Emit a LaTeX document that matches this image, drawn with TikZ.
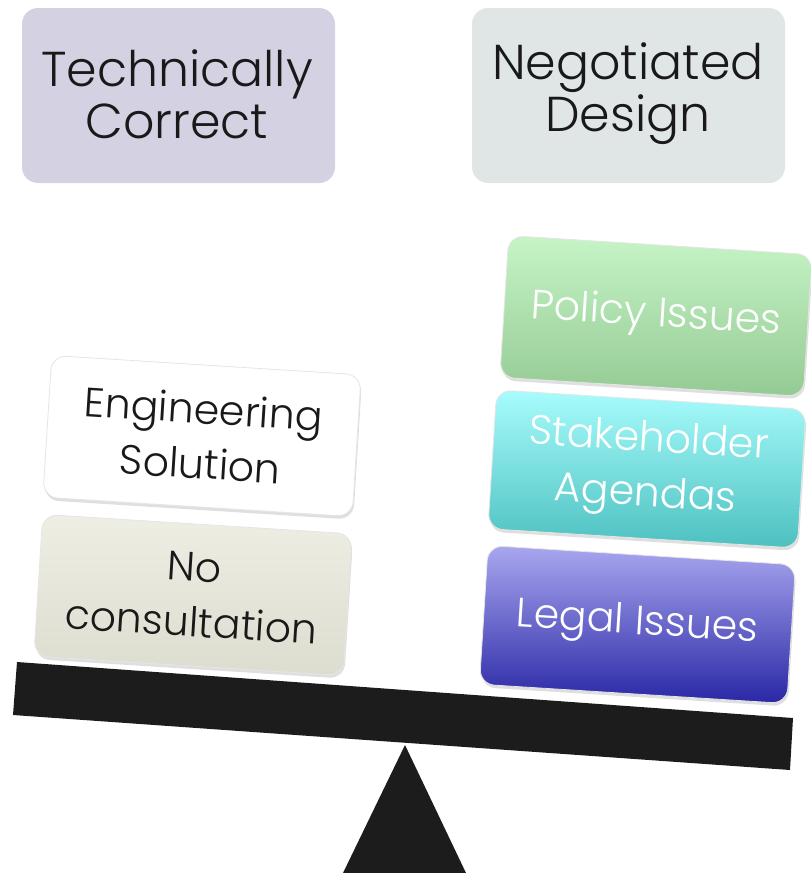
\documentclass[tikz,border=0pt]{standalone}
\usepackage{fontspec}
\setmainfont{Poppins}[UprightFont={* Light}]
\usetikzlibrary{shadows}
\definecolor{lavfill}{HTML}{D3D1E2}
\definecolor{negfill}{HTML}{E0E6E6}
\definecolor{beamcol}{HTML}{1C1C1C}
\definecolor{noctop}{HTML}{EEEEE4}
\definecolor{nocbot}{HTML}{DCDCCF}
\definecolor{poltop}{HTML}{C6F4C6}
\definecolor{polbot}{HTML}{94CA94}
\definecolor{stktop}{HTML}{A8FCFC}
\definecolor{stkbot}{HTML}{4DC0C0}
\definecolor{legtop}{HTML}{A9A7EF}
\definecolor{legbot}{HTML}{2927A5}
\tikzset{
  topbox/.style={rounded corners=16pt, minimum width=313pt, minimum height=175pt,
    inner sep=0pt},
  toptext/.style={align=center, font=\fontsize{49}{52}\selectfont, text=black!90, inner sep=0pt},
  tiltbox/.style={rounded corners=15pt, minimum width=310pt, minimum height=142pt,
    align=center, font=\fontsize{41}{55}\selectfont, inner sep=0pt, rotate=-3.6,
    draw=black!10, line width=0.8pt,
    drop shadow={shadow xshift=1pt, shadow yshift=-3pt, opacity=0.25}},
}
\begin{document}
\begin{tikzpicture}[x=1pt,y=-1pt]
\useasboundingbox (0,0) rectangle (811,873);
% headings
\node[topbox, fill=lavfill] (tc) at (178.5,95.5) {};
\node[toptext] (tct) at (177,94) {Technically\\Correct};
\node[topbox, fill=negfill] (nd) at (628.5,95.5) {};
\node[toptext] (ndt) at (628,94) {Negotiated\\Design};
% fulcrum and beam
\path[fill=beamcol] (405,745) -- (466,873) -- (343,873) -- cycle;
\path[fill=beamcol] (17,662) -- (793,718) -- (790,770) -- (13,715) -- cycle;
% left stack
\node[tiltbox, fill=white, text=black!90] (eng) at (202,436) {Engineering\\Solution};
\node[tiltbox, top color=noctop, bottom color=nocbot, text=black!90] (noc) at (193,595) {No\\consultation};
% right stack
\node[tiltbox, minimum width=304pt, top color=poltop, bottom color=polbot, text=white] (pol) at (656,316) {Policy Issues};
\node[tiltbox, minimum height=139pt, top color=stktop, bottom color=stkbot, text=white] (stk) at (647,469) {Stakeholder\\Agendas};
\node[tiltbox, minimum width=308pt, minimum height=139pt, top color=legtop, bottom color=legbot, text=white] (leg) at (637.5,624.5) {Legal Issues};
\end{tikzpicture}
\end{document}
